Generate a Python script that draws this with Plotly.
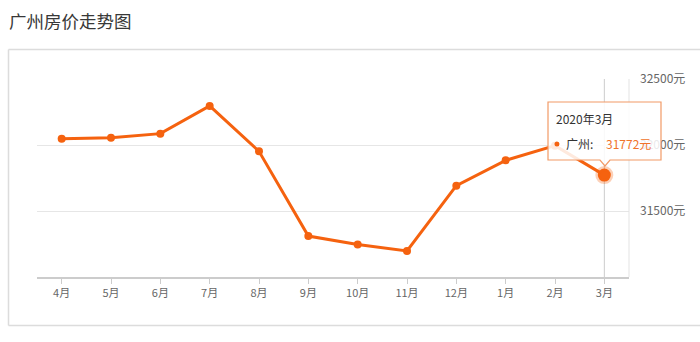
import plotly.graph_objects as go

months = ["4月", "5月", "6月", "7月", "8月", "9月", "10月", "11月", "12月", "1月", "2月", "3月"]
prices = [32048, 32055, 32086, 32296, 31952, 31310, 31247, 31197, 31692, 31884, 31995, 31772]
y_ticks = [31500, 32000, 32500]
y_ticktext = [f"{v}元" for v in y_ticks]
title_text = "广州房价走势图"
tip_title = "2020年3月"
tip_series = "广州:"
tip_value = f"{prices[-1]}元"

W, H = 700, 342
L, R, T, B = 37, 629, 79, 277
LINE = "#f5620f"
FONT = "Noto Sans CJK SC"


def px(x):
    return round((x - L) / (R - L), 5)


def py(y):
    return round((B - y) / (B - T), 5)


shapes = []
# outer box (four edges)
bx0, bx1, by0, by1 = px(8.5), px(710), py(325.5), py(49.5)
box_line = dict(color="#dcdcdc", width=1.5)
for s in [(bx0, by0, bx0, by1), (bx0, by1, bx1, by1), (bx0, by0, bx1, by0)]:
    shapes.append(dict(type="line", xref="paper", yref="paper",
                       x0=s[0], y0=s[1], x1=s[2], y1=s[3], line=box_line, layer="above"))
# crosshair at last point
shapes.append(dict(type="line", xref="x", yref="paper", x0=len(months) - 1, x1=len(months) - 1,
                   y0=0, y1=1, line=dict(color="#cccccc", width=1), layer="below"))
# right vertical border of plot area
shapes.append(dict(type="line", xref="paper", yref="paper", x0=1, x1=1, y0=0, y1=1,
                   line=dict(color="#e3e3e3", width=1), layer="above"))
# tooltip box with pointer
tx0, tx1, ty0, ty1 = px(548), px(661), py(102), py(160)
ax, ah, aw = px(605), py(166), round(5 / (R - L), 5)
tip_path = (f"M {tx0},{ty0} L {tx1},{ty0} L {tx1},{ty1} L {ax+aw},{ty1} L {ax},{ah} "
            f"L {ax-aw},{ty1} L {tx0},{ty1} Z")
shapes.append(dict(type="path", xref="paper", yref="paper", path=tip_path,
                   fillcolor="rgba(255,255,255,0.86)", line=dict(color="#f29a66", width=1.2),
                   layer="above"))
shapes.append(dict(type="circle", xref="paper", yref="paper",
                   x0=px(554.5), x1=px(559.5), y0=py(141.5), y1=py(146.5),
                   fillcolor=LINE, line=dict(width=0), layer="above"))

annotations = [
    dict(text=title_text, xref="paper", yref="paper", x=px(7), y=py(21), xanchor="left",
         yanchor="middle", showarrow=False, font=dict(family=FONT, size=17.5, color="#383838")),
    dict(text=tip_title, xref="paper", yref="paper", x=px(554), y=py(119), xanchor="left",
         yanchor="middle", showarrow=False, font=dict(family=FONT, size=12, color="#333333")),
    dict(text=tip_series, xref="paper", yref="paper", x=px(564), y=py(144), xanchor="left",
         yanchor="middle", showarrow=False, font=dict(family=FONT, size=12, color="#333333")),
    dict(text=tip_value, xref="paper", yref="paper", x=px(604), y=py(144), xanchor="left",
         yanchor="middle", showarrow=False, font=dict(family=FONT, size=12, color="#f0732a")),
]

fig = go.Figure()
fig.add_trace(go.Scatter(
    x=months, y=prices, mode="lines+markers",
    line=dict(color=LINE, width=3),
    marker=dict(color=LINE, size=8),
    hoverinfo="skip", cliponaxis=False,
))
# highlighted last point with halo
fig.add_trace(go.Scatter(
    x=[months[-1]], y=[prices[-1]], mode="markers",
    marker=dict(color=LINE, size=13, line=dict(color="rgba(245,98,15,0.3)", width=5)),
    hoverinfo="skip", cliponaxis=False,
))

fig.update_layout(
    width=W, height=H,
    margin=dict(l=L, r=W - R, t=T, b=H - B, pad=0),
    paper_bgcolor="white", plot_bgcolor="white",
    showlegend=False,
    shapes=shapes, annotations=annotations,
    font=dict(family=FONT, color="#666666"),
    xaxis=dict(type="category", range=[-0.5, len(months) - 0.5], showgrid=False,
               showline=True, linecolor="#cccccc", linewidth=1.5,
               ticks="outside", ticklen=5, tickcolor="#cccccc",
               tickfont=dict(size=11, color="#666666"), fixedrange=True),
    yaxis=dict(side="right", range=[31000, 32500], tickvals=y_ticks, ticktext=y_ticktext,
               showgrid=True, gridcolor="#e6e6e6", gridwidth=1, zeroline=False,
               showline=False, ticks="", ticklabelstandoff=10,
               tickfont=dict(size=12, color="#666666"), fixedrange=True),
    hovermode=False,
)

fig.write_html("out.html")
